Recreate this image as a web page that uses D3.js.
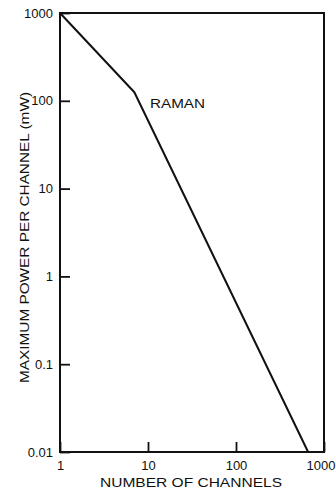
<!DOCTYPE html>
<html>
<head>
<meta charset="utf-8">
<script src="https://cdn.jsdelivr.net/npm/d3@7"></script>
<style>
  html, body { margin: 0; padding: 0; background: #fff; }
  svg { display: block; font-family: "Liberation Sans", Arial, Helvetica, sans-serif; }
</style>
</head>
<body>
<svg id="chart" width="336" height="490"></svg>
<script>
// Raman-limited maximum power per channel vs. channel count
const channels = [1, 7, 660];
const powerMw = [1000, 125, 0.01];

const xTickValues = [1, 10, 100, 1000];
const xTickLabels = ["1", "10", "100", "1000"];
const yTickValues = [0.01, 0.1, 1, 10, 100, 1000];
const yTickLabels = ["0.01", "0.1", "1", "10", "100", "1000"];

const curveLabel = "RAMAN";
const xTitle = "NUMBER OF CHANNELS";
const yTitle = "MAXIMUM POWER PER CHANNEL (mW)";

const svg = d3.select("#chart");
const plot = { left: 60, right: 324, top: 13, bottom: 452 };
const ink = "#111";

const x = d3.scaleLog().domain([1, 1000]).range([plot.left, plot.right]);
const y = d3.scaleLog().domain([0.01, 1000]).range([plot.bottom, plot.top]);

// Frame
svg.append("rect")
  .attr("x", plot.left).attr("y", plot.top)
  .attr("width", plot.right - plot.left).attr("height", plot.bottom - plot.top)
  .attr("fill", "none").attr("stroke", ink).attr("stroke-width", 2);

// Axes with inward-pointing decade ticks
const xAxis = d3.axisBottom(x)
  .tickValues(xTickValues)
  .tickFormat((d, i) => xTickLabels[i])
  .tickSize(-10).tickPadding(6);
const gx = svg.append("g").attr("transform", `translate(0,${plot.bottom})`).call(xAxis);

const yAxis = d3.axisLeft(y)
  .tickValues(yTickValues)
  .tickFormat((d, i) => yTickLabels[i])
  .tickSize(-10).tickPadding(7);
const gy = svg.append("g").attr("transform", `translate(${plot.left},0)`).call(yAxis);

[gx, gy].forEach(g => {
  g.select(".domain").remove();
  g.selectAll(".tick line").attr("stroke", ink).attr("stroke-width", 1.8);
  g.selectAll(".tick text")
    .attr("fill", ink)
    .style("font-size", "13px")
    .style("font-family", "\"Liberation Sans\", Arial, sans-serif");
});
gx.selectAll(".tick text").attr("dy", "0.95em");
// Keep the last x label inside the right edge
gx.selectAll(".tick text")
  .filter(d => d === 1000)
  .attr("text-anchor", "end")
  .attr("x", 335 - x(1000));

// Curve
const line = d3.line()
  .x((d, i) => x(channels[i]))
  .y((d, i) => y(powerMw[i]));
svg.append("path")
  .datum(channels)
  .attr("d", line)
  .attr("fill", "none")
  .attr("stroke", ink)
  .attr("stroke-width", 2)
  .attr("stroke-linejoin", "round");

// Curve label
svg.append("text")
  .attr("x", 150).attr("y", 107.5)
  .attr("fill", ink)
  .attr("textLength", 55).attr("lengthAdjust", "spacingAndGlyphs")
  .style("font-size", "13.5px")
  .text(curveLabel);

// Axis titles
svg.append("text")
  .attr("x", 191).attr("y", 487)
  .attr("text-anchor", "middle")
  .attr("fill", ink)
  .attr("textLength", 182).attr("lengthAdjust", "spacingAndGlyphs")
  .style("font-size", "13.5px")
  .text(xTitle);

svg.append("text")
  .attr("transform", "translate(29,237.5) rotate(-90)")
  .attr("text-anchor", "middle")
  .attr("fill", ink)
  .attr("textLength", 291).attr("lengthAdjust", "spacingAndGlyphs")
  .style("font-size", "12.5px")
  .text(yTitle);
</script>
</body>
</html>
